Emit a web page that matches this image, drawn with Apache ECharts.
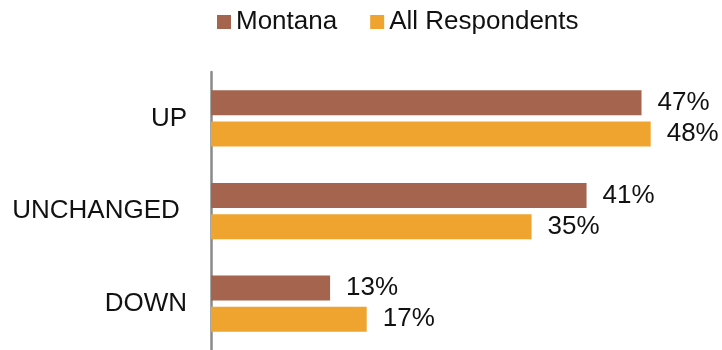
<!DOCTYPE html>
<html>
<head>
<meta charset="utf-8">
<script src="https://cdn.jsdelivr.net/npm/echarts@6/dist/echarts.min.js"></script>
<style>
  html, body { margin: 0; padding: 0; background: #fff; }
  #chart { width: 722px; height: 350px; }
</style>
</head>
<body>
<div id="chart"></div>
<script>
// Direction of change, percent of respondents
const categories = ['UP', 'UNCHANGED ', 'DOWN'];
const seriesNames = ['Montana', 'All Respondents'];
const montanaValues = [47, 41, 13];
const allRespondentsValues = [48, 35, 17];

const FONT = '"Liberation Sans", Arial, Helvetica, sans-serif';
const FONT_SIZE = 26;
const TEXT_COLOR = '#111';
const COLORS = ['#A5644D', '#EFA42F'];

const chart = echarts.init(document.getElementById('chart'), null, { renderer: 'canvas' });

const labelStyle = {
  show: true,
  position: 'right',
  distance: 16,
  formatter: p => p.value + '%',
  fontFamily: FONT,
  fontSize: FONT_SIZE,
  color: TEXT_COLOR
};

chart.setOption({
  animation: false,
  backgroundColor: '#fff',
  textStyle: { fontFamily: FONT },
  legend: {
    data: seriesNames,
    left: 212,
    top: 3,
    icon: 'rect',
    itemWidth: 14,
    itemHeight: 14,
    itemGap: 33,
    textStyle: { fontFamily: FONT, fontSize: FONT_SIZE, color: TEXT_COLOR, lineHeight: 28 }
  },
  grid: { left: 211, right: 53, top: 72, bottom: -2, containLabel: false },
  xAxis: {
    type: 'value',
    min: 0,
    max: 50,
    show: false,
    splitLine: { show: false }
  },
  yAxis: {
    type: 'category',
    data: categories,
    inverse: true,
    axisTick: { show: false },
    axisLine: { show: true, lineStyle: { color: '#8a8a8a', width: 2.5 } },
    axisLabel: { margin: 24, fontFamily: FONT, fontSize: FONT_SIZE, color: TEXT_COLOR }
  },
  series: [
    {
      name: seriesNames[0],
      type: 'bar',
      data: montanaValues,
      itemStyle: { color: COLORS[0] },
      barWidth: 25,
      barGap: '25%',
      label: labelStyle
    },
    {
      name: seriesNames[1],
      type: 'bar',
      data: allRespondentsValues,
      itemStyle: { color: COLORS[1] },
      barWidth: 25,
      label: labelStyle
    }
  ]
});
</script>
</body>
</html>
